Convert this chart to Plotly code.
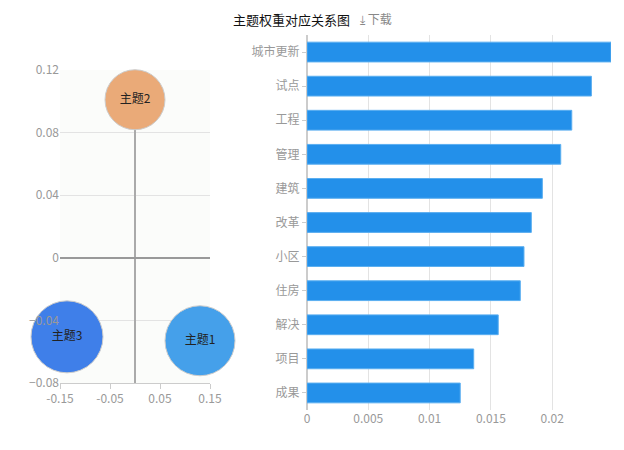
import plotly.graph_objects as go

topics = ["主题1", "主题2", "主题3"]
tx = [0.13, 0.0, -0.136]
ty = [-0.053, 0.101, -0.0505]
tsize = [70, 60, 72]
tcolor = ["#45a0ea", "#eaaa78", "#3f7fe9"]

words = ["城市更新", "试点", "工程", "管理", "建筑", "改革", "小区", "住房", "解决", "项目", "成果"]
weights = [0.0248, 0.0232, 0.0216, 0.0207, 0.0192, 0.0183, 0.0177, 0.0174, 0.0156, 0.0136, 0.0125]

def px(x):
    return (x - 8) / 624

def py(y):
    return 1 - (y - 8) / 450

fig = go.Figure()
fig.add_trace(go.Scatter(x=tx, y=ty, mode="markers+text", text=topics,
    textfont=dict(size=12, color="#222"), cliponaxis=False,
    marker=dict(size=tsize, color=tcolor, opacity=1, line=dict(color="#ccc", width=1)),
    xaxis="x", yaxis="y", hoverinfo="skip"))
fig.add_trace(go.Bar(x=weights, y=words, orientation="h", marker=dict(color="#2390ea", line=dict(color="#5aaef0", width=1)),
    xaxis="x2", yaxis="y2"))

axfont = dict(size=12, color="#999")
fig.update_layout(
    width=624, height=450, margin=dict(l=0, r=0, t=0, b=0, autoexpand=False),
    paper_bgcolor="white", plot_bgcolor="white", showlegend=False,
    font=dict(family="Noto Sans CJK SC"), bargap=0.42,
    xaxis=dict(domain=[px(60), px(210)], range=[-0.15, 0.15], tickvals=[-0.15, -0.05, 0.05, 0.15],
               ticktext=["-0.15", "-0.05", "0.05", "0.15"], showgrid=False, zeroline=True,
               zerolinecolor="#aaa", tickfont=axfont, showline=True, linecolor="#ccc",
               ticks="outside", tickcolor="#ccc", ticklen=5, anchor="y", automargin=False),
    yaxis=dict(domain=[py(383), py(70)], range=[-0.08, 0.12], dtick=0.04, gridcolor="#e3e3e3",
               zeroline=True, zerolinecolor="#999", tickfont=axfont, tickformat="~g", anchor="x", automargin=False),
    xaxis2=dict(domain=[px(307), px(611)], range=[0, 0.0248], tickvals=[0, 0.005, 0.01, 0.015, 0.02],
                ticktext=["0", "0.005", "0.01", "0.015", "0.02"], gridcolor="#e3e3e3",
                tickfont=axfont, zeroline=True, zerolinecolor="#ccc", zerolinewidth=2, anchor="y2", automargin=False),
    yaxis2=dict(domain=[py(410), py(35)], autorange="reversed", tickfont=axfont, anchor="x2",
                ticks="outside", tickcolor="#ccc", ticklen=4, automargin=False),
    shapes=[
        dict(type="rect", xref="x domain", yref="y domain", x0=0, x1=1, y0=0, y1=1,
             fillcolor="#fbfcfa", line=dict(width=0), layer="below"),
    ],
    annotations=[
        dict(text="主题权重对应关系图", x=px(352), xref="paper", y=1, yref="paper", showarrow=False,
             xanchor="right", yanchor="top", font=dict(size=13, color="#111")),
        dict(text="⤓ 下载", x=px(358), xref="paper", y=1, yref="paper", showarrow=False,
             xanchor="left", yanchor="top", font=dict(size=12, color="#888")),
    ],
)
fig.write_html("out.html")
